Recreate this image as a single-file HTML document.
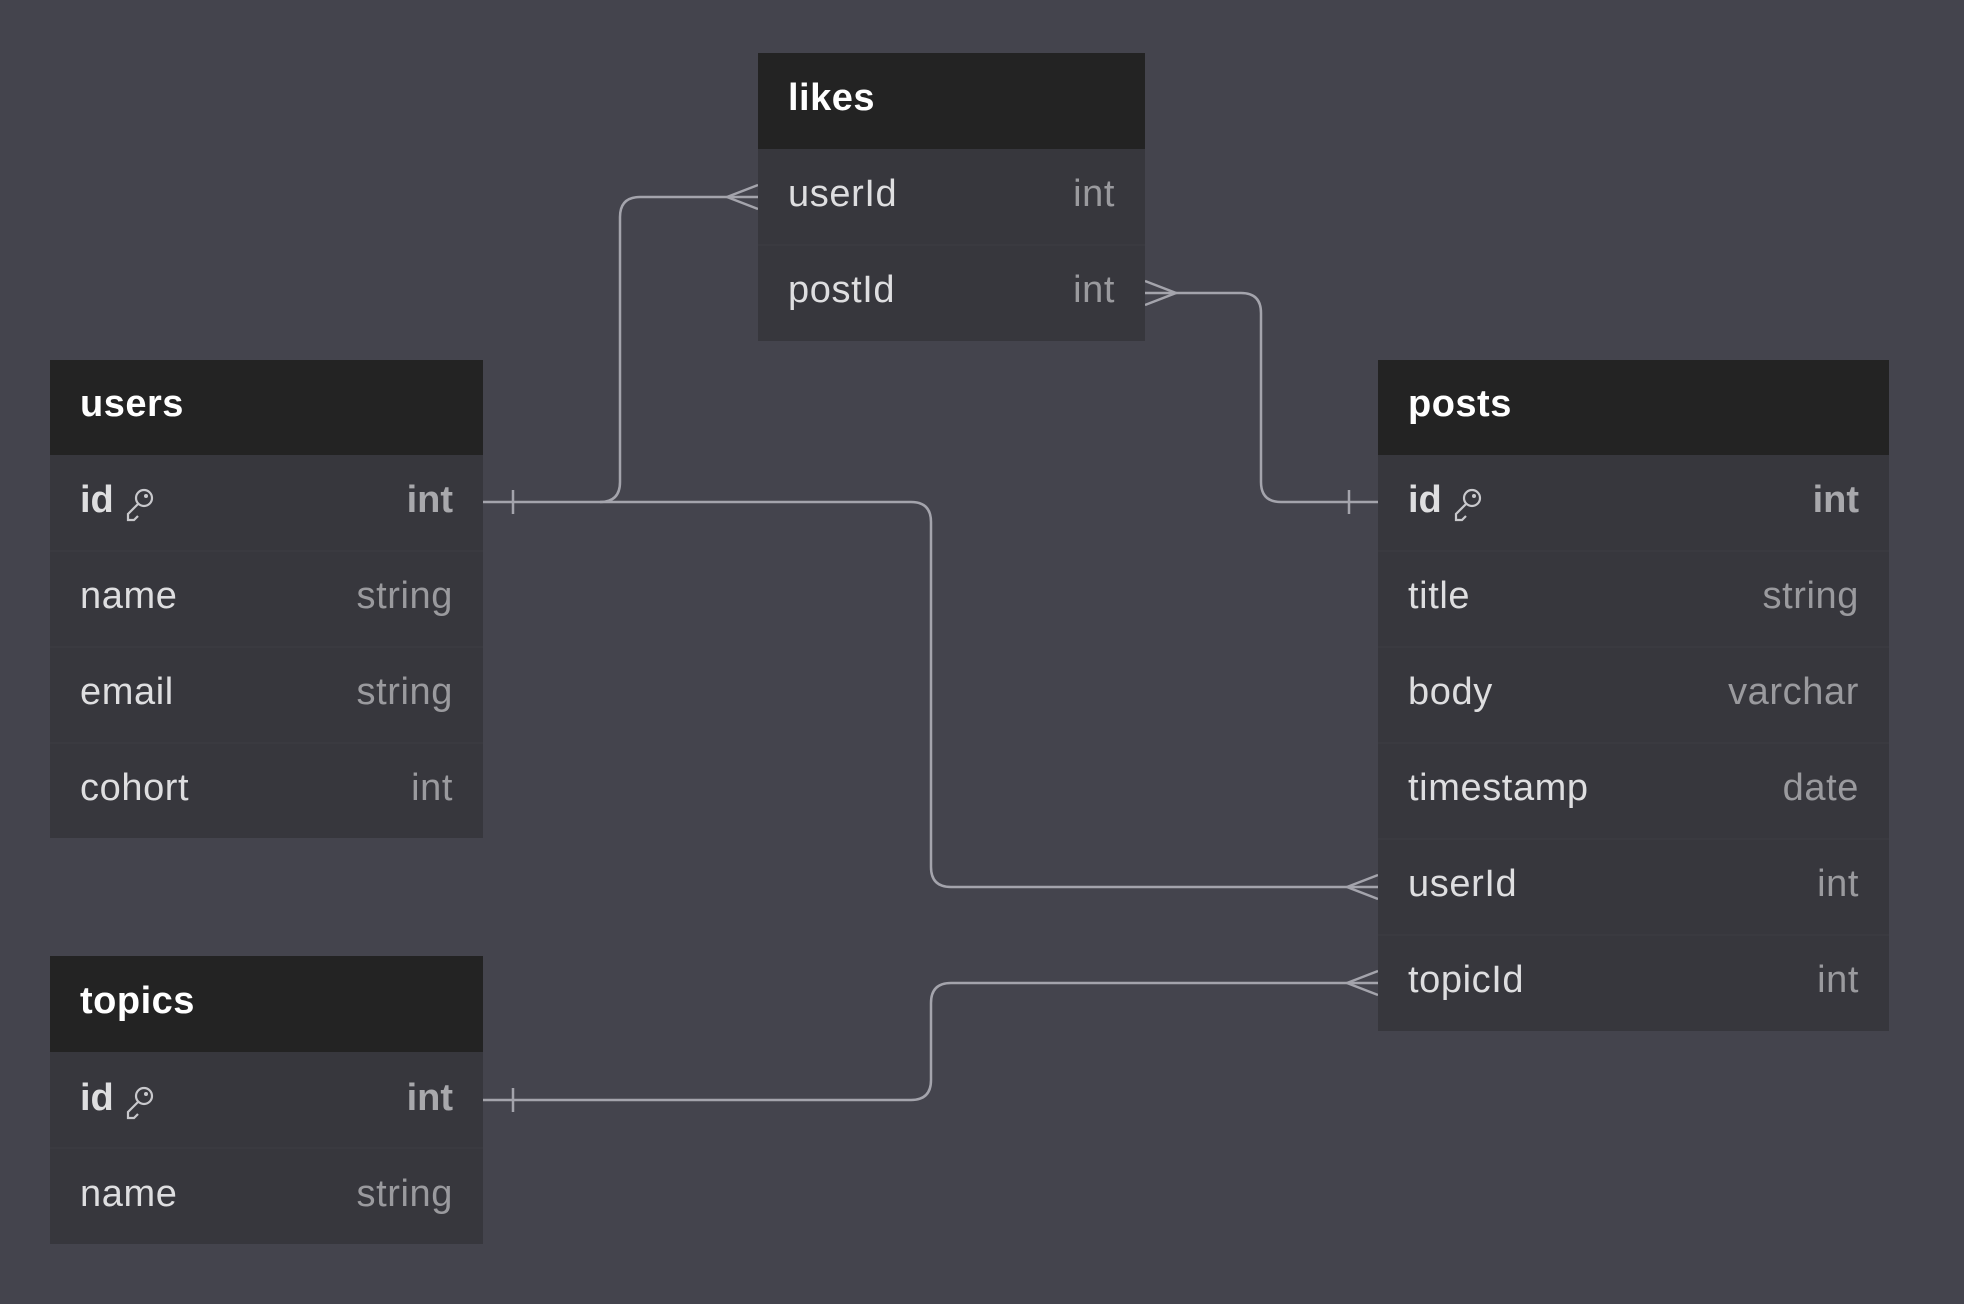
<!DOCTYPE html>
<html><head><meta charset="utf-8"><style>
html,body{margin:0;padding:0;background:#44444d;}
svg{display:block}
.t{font-family:"Liberation Sans",sans-serif;font-weight:bold;font-size:38px;fill:#ffffff;letter-spacing:0.5px}
.f{font-family:"Liberation Sans",sans-serif;font-size:38px;fill:#dedee0;letter-spacing:0.6px}
.fb{font-family:"Liberation Sans",sans-serif;font-size:38px;font-weight:bold;fill:#dedee0}
.ty{font-family:"Liberation Sans",sans-serif;font-size:38px;fill:#9a9a9e;text-anchor:end;letter-spacing:0.6px}
.tyb{font-family:"Liberation Sans",sans-serif;font-size:38px;font-weight:bold;fill:#a8a8ac;text-anchor:end}
.ln{fill:none;stroke:#a4a4ac;stroke-width:2.5}
</style></head><body>
<svg width="1964" height="1304" viewBox="0 0 1964 1304" xmlns="http://www.w3.org/2000/svg">
<rect width="1964" height="1304" fill="#44444d"/>

<path class="ln" d="M483 502 H600 Q620 502 620 482 V217 Q620 197 640 197 H758"/>
<path class="ln" d="M727 197 L758 185 M727 197 L758 209"/>
<path class="ln" d="M513 490 V514"/>
<path class="ln" d="M600 502 H911 Q931 502 931 522 V867 Q931 887 951 887 H1378"/>
<path class="ln" d="M1347 887 L1378 875 M1347 887 L1378 899"/>
<path class="ln" d="M1145 293 H1241 Q1261 293 1261 313 V482 Q1261 502 1281 502 H1378"/>
<path class="ln" d="M1145 281 L1176 293 L1145 305"/>
<path class="ln" d="M1349 490 V514"/>
<path class="ln" d="M483 1100 H911 Q931 1100 931 1080 V1003 Q931 983 951 983 H1378"/>
<path class="ln" d="M1347 983 L1378 971 M1347 983 L1378 995"/>
<path class="ln" d="M513 1088 V1112"/>

<defs>
<g id="key"><circle cx="14" cy="-14" r="8" fill="none" stroke="#c8c8cc" stroke-width="2.2"/><path d="M8 -8 L-2 2 L-2 8 L4 8 L8 4" fill="none" stroke="#c8c8cc" stroke-width="2.2"/><circle cx="16" cy="-16" r="2" fill="#c8c8cc"/></g>
</defs>

<rect x="758" y="53" width="387" height="96" fill="#232323"/>
<rect x="758" y="149" width="387" height="192" fill="#37373d"/>
<line x1="758" y1="245" x2="1145" y2="245" stroke="#3c3c42" stroke-width="1.5"/>
<text class="t" x="788" y="110">likes</text>
<text class="f" x="788" y="206">userId</text><text class="ty" x="1115" y="206">int</text>
<text class="f" x="788" y="302">postId</text><text class="ty" x="1115" y="302">int</text>

<rect x="50" y="360" width="433" height="95" fill="#232323"/>
<rect x="50" y="455" width="433" height="383" fill="#37373d"/>
<g stroke="#3c3c42" stroke-width="1.5"><line x1="50" y1="551" x2="483" y2="551"/><line x1="50" y1="647" x2="483" y2="647"/><line x1="50" y1="743" x2="483" y2="743"/></g>
<text class="t" x="80" y="416">users</text>
<text class="fb" x="80" y="512">id</text><use href="#key" x="130" y="512"/><text class="tyb" x="453" y="512">int</text>
<text class="f" x="80" y="608">name</text><text class="ty" x="453" y="608">string</text>
<text class="f" x="80" y="704">email</text><text class="ty" x="453" y="704">string</text>
<text class="f" x="80" y="800">cohort</text><text class="ty" x="453" y="800">int</text>

<rect x="50" y="956" width="433" height="96" fill="#232323"/>
<rect x="50" y="1052" width="433" height="192" fill="#37373d"/>
<line x1="50" y1="1148" x2="483" y2="1148" stroke="#3c3c42" stroke-width="1.5"/>
<text class="t" x="80" y="1013">topics</text>
<text class="fb" x="80" y="1110">id</text><use href="#key" x="130" y="1110"/><text class="tyb" x="453" y="1110">int</text>
<text class="f" x="80" y="1206">name</text><text class="ty" x="453" y="1206">string</text>

<rect x="1378" y="360" width="511" height="95" fill="#232323"/>
<rect x="1378" y="455" width="511" height="576" fill="#37373d"/>
<g stroke="#3c3c42" stroke-width="1.5"><line x1="1378" y1="551" x2="1889" y2="551"/><line x1="1378" y1="647" x2="1889" y2="647"/><line x1="1378" y1="743" x2="1889" y2="743"/><line x1="1378" y1="839" x2="1889" y2="839"/><line x1="1378" y1="935" x2="1889" y2="935"/></g>
<text class="t" x="1408" y="416">posts</text>
<text class="fb" x="1408" y="512">id</text><use href="#key" x="1458" y="512"/><text class="tyb" x="1859" y="512">int</text>
<text class="f" x="1408" y="608">title</text><text class="ty" x="1859" y="608">string</text>
<text class="f" x="1408" y="704">body</text><text class="ty" x="1859" y="704">varchar</text>
<text class="f" x="1408" y="800">timestamp</text><text class="ty" x="1859" y="800">date</text>
<text class="f" x="1408" y="896">userId</text><text class="ty" x="1859" y="896">int</text>
<text class="f" x="1408" y="992">topicId</text><text class="ty" x="1859" y="992">int</text>
</svg>
</body></html>
